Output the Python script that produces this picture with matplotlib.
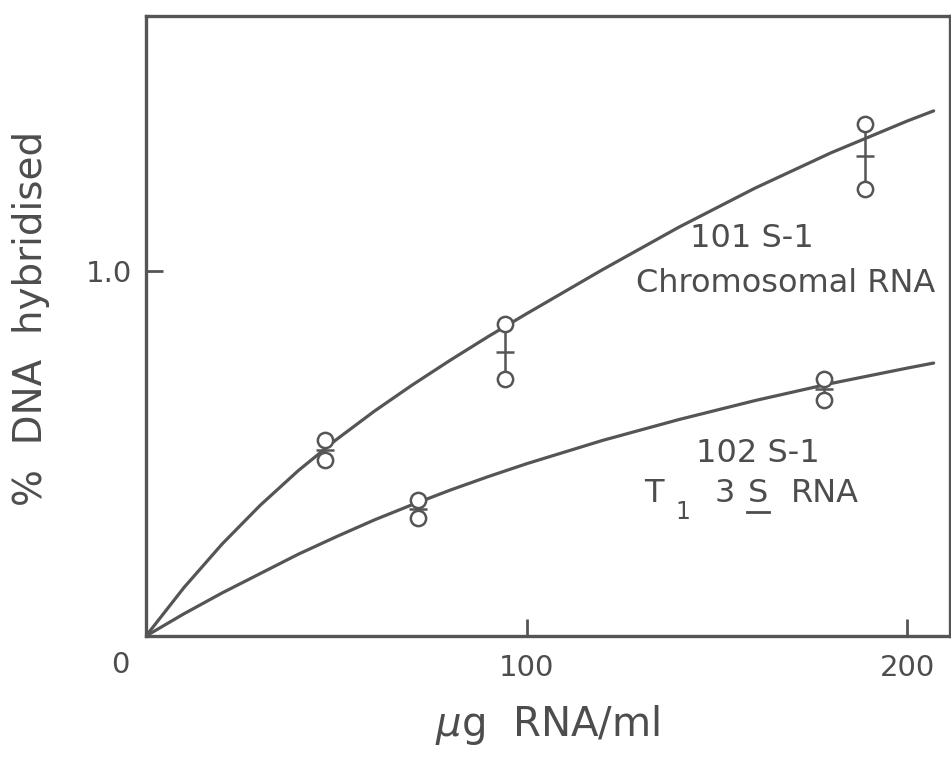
import numpy as np
import matplotlib.pyplot as plt

# hybridisation curves (hand-fitted lines)
chrom_curve_x = [0, 10, 20, 30, 40, 50, 60, 70, 80, 90, 100, 120, 140, 160, 180, 200, 207]
chrom_curve_y = [0, 0.133, 0.252, 0.358, 0.453, 0.538, 0.616, 0.688, 0.756, 0.821, 0.883,
                 1.004, 1.120, 1.227, 1.324, 1.411, 1.439]
t1_curve_x = [0, 10, 20, 30, 40, 50, 60, 70, 80, 90, 100, 120, 140, 160, 180, 200, 207]
t1_curve_y = [0, 0.061, 0.118, 0.171, 0.224, 0.272, 0.318, 0.360, 0.400, 0.437, 0.472,
              0.536, 0.593, 0.645, 0.692, 0.734, 0.748]

# duplicate measurements
chrom_x = [47.0, 94.3, 189.0]
chrom_hi = [0.537, 0.855, 1.403]
chrom_lo = [0.482, 0.704, 1.225]
t1_x = [71.5, 178.2]
t1_hi = [0.373, 0.704]
t1_lo = [0.323, 0.647]

ink = '#555555'
txt = '#4d4d4d'

plt.rcParams['font.family'] = ['DejaVu Sans']
fig = plt.figure(figsize=(9.51, 7.58), dpi=100)
ax = fig.add_axes([146/951, (758-636)/758, (950-146)/951, (636-16)/758])
ax.set_xlim(0, 211.3)
ax.set_ylim(0, 1.699)

ax.plot(chrom_curve_x, chrom_curve_y, color=ink, lw=2.3, solid_capstyle='round', zorder=2)
ax.plot(t1_curve_x, t1_curve_y, color=ink, lw=2.3, solid_capstyle='round', zorder=2)

for xs, hi, lo in [(chrom_x, chrom_hi, chrom_lo), (t1_x, t1_hi, t1_lo)]:
    xs, hi, lo = np.array(xs), np.array(hi), np.array(lo)
    ax.vlines(xs, lo, hi, color=ink, lw=1.8, zorder=3)
    ax.plot(xs, (hi + lo) / 2, ls='none', marker='_', ms=13, mew=1.8, color=ink, zorder=3)
    ax.plot(np.r_[xs, xs], np.r_[hi, lo], ls='none', marker='o', ms=11,
            mfc='white', mec=ink, mew=1.8, zorder=4)

for s in ax.spines.values():
    s.set_color(ink)
    s.set_linewidth(2.4)

ax.set_xticks([100, 200])
ax.set_xticklabels(['100', '200'])
ax.set_yticks([1.0])
ax.set_yticklabels(['1.0'])
ax.tick_params(direction='in', length=12, width=2, color=ink, labelcolor=txt,
               labelsize=21, pad=13)
ax.tick_params(axis='y', pad=10)
ax.text(-6.8, -0.08, '0', ha='center', va='center', fontsize=21, color=txt, clip_on=False)

ax.set_xlabel(r'$\mu$g  RNA/ml', fontsize=29, color=txt)
ax.xaxis.set_label_coords(0.5, -0.1435)
ax.xaxis.label.set_va('center')
ax.set_ylabel('%  DNA  hybridised', fontsize=28, color=txt)
ax.yaxis.set_label_coords(-0.143, 0.513)
ax.yaxis.label.set_va('center')

def px(x, y):
    return (x - 146) / 3.805, (636 - y) / 365

lab = dict(fontsize=23, color=txt, va='center', ha='center')
ax.text(*px(752, 238), '101 S-1', **lab)
ax.text(*px(786, 283), 'Chromosomal RNA', **lab)
ax.text(*px(758, 453), '102 S-1', **lab)
ax.text(*px(654, 493), 'T', **lab)
ax.text(*px(683, 512), '1', fontsize=17, color=txt, va='center', ha='center')
ax.text(*px(725, 493), '3', **lab)
ax.text(*px(758, 493), 'S', **lab)
ax.text(*px(825, 493), 'RNA', **lab)
ux0, uy = px(747, 512)
ux1, _ = px(769, 512)
ax.plot([ux0, ux1], [uy, uy], color=txt, lw=2)

fig.savefig('out.png', dpi=100, facecolor='white')
